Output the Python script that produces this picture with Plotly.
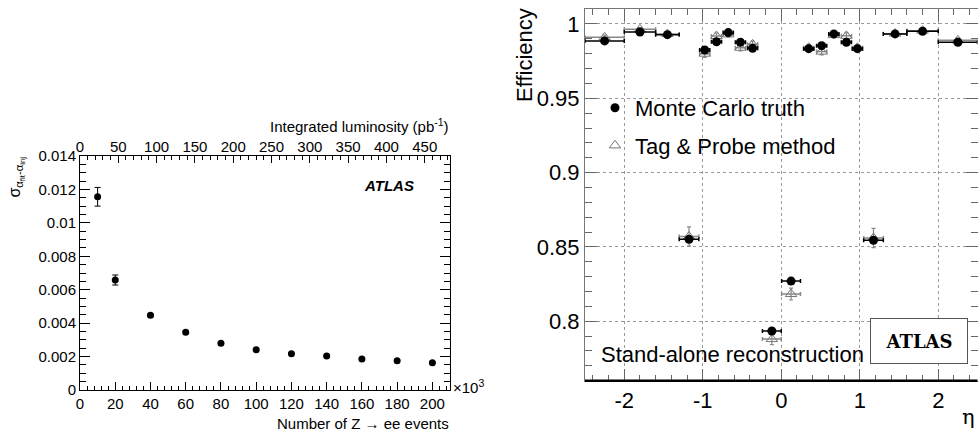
import plotly.graph_objects as go

W, H = 978, 434
FONT = "Liberation Sans, Arial, Helvetica, sans-serif"


def px(x):
    return x / W


def py(y):
    return 1 - y / H


# ---------------- Left panel data ----------------
n_events = [10, 20, 40, 60, 80, 100, 120, 140, 160, 180, 200]          # x10^3
sigma = [0.01156, 0.00658, 0.00447, 0.00345, 0.00279, 0.00241,
         0.00217, 0.00203, 0.00185, 0.00175, 0.00163]
sigma_err = [0.00056, 0.00030, 0.00010, 0.00008, 0.00006, 0.00005,
             0.00005, 0.00004, 0.00004, 0.00004, 0.00003]
lumi_range = [0, 483]                                                  # pb^-1 matching 0..210 x10^3 events
x_ticks_left = [0, 20, 40, 60, 80, 100, 120, 140, 160, 180, 200]
lumi_ticks = [0, 50, 100, 150, 200, 250, 300, 350, 400, 450]

# ---------------- Right panel data ----------------
eta = [-2.25, -1.80, -1.45, -1.175, -0.975, -0.825, -0.675, -0.52, -0.365,
       -0.12, 0.125, 0.35, 0.515, 0.67, 0.83, 0.97, 1.175, 1.45, 1.80, 2.25]
eta_err = [0.25, 0.20, 0.15, 0.125, 0.065, 0.065, 0.065, 0.065, 0.065,
           0.12, 0.12, 0.065, 0.065, 0.065, 0.065, 0.065, 0.125, 0.15, 0.20, 0.25]
eff_mc = [0.9886, 0.9946, 0.9928, 0.8551, 0.9825, 0.9880, 0.9942, 0.9877, 0.9836,
          0.7934, 0.8270, 0.9834, 0.9854, 0.9933, 0.9877, 0.9834, 0.8545, 0.9933, 0.9951, 0.9877]
eff_mc_err = [0.0006, 0.0005, 0.0005, 0.0012, 0.0008, 0.0008, 0.0007, 0.0008, 0.0008,
              0.0012, 0.0012, 0.0008, 0.0008, 0.0007, 0.0008, 0.0008, 0.0012, 0.0005, 0.0005, 0.0006]
eff_tp = [0.9910, 0.9964, 0.9932, 0.8570, 0.9800, 0.9919, 0.9930, 0.9840, 0.9863,
          0.7880, 0.8183, 0.9840, 0.9814, 0.9925, 0.9920, 0.9840, 0.8560, 0.9935, 0.9955, 0.9890]
eff_tp_err = [0.0015, 0.0012, 0.0015, 0.0065, 0.0025, 0.0020, 0.0018, 0.0022, 0.0022,
              0.0037, 0.0040, 0.0022, 0.0022, 0.0018, 0.0020, 0.0022, 0.0065, 0.0015, 0.0012, 0.0015]
eta_ticks = [-2, -1, 0, 1, 2]
eta_ticktext = ["-2", "-1", "0", "1", "2"]
eff_ticks = [0.8, 0.85, 0.9, 0.95, 1.0]
eff_ticktext = ["0.8", "0.85", "0.9", "0.95", "1"]

fig = go.Figure()

# Left panel
fig.add_trace(go.Scatter(
    x=n_events, y=sigma, mode="markers", xaxis="x", yaxis="y",
    marker=dict(symbol="circle", size=7, color="black"),
    error_y=dict(type="data", array=sigma_err, color="black", thickness=1, width=3),
    showlegend=False, hoverinfo="skip"))
# invisible trace for the top luminosity axis
fig.add_trace(go.Scatter(
    x=lumi_range, y=[None, None], mode="markers", xaxis="x3", yaxis="y",
    showlegend=False, hoverinfo="skip"))

# Right panel: Tag & Probe (drawn first so MC sits on top)
fig.add_trace(go.Scatter(
    x=eta, y=eff_tp, mode="markers", xaxis="x2", yaxis="y2",
    name="Tag & Probe method", legendrank=2, legendgroup="tp",
    marker=dict(symbol="triangle-up-open", size=10, color="#777777", line=dict(width=1, color="#777777")),
    error_x=dict(type="data", array=eta_err, color="#888888", thickness=1.5, width=2),
    error_y=dict(type="data", array=eff_tp_err, color="#888888", thickness=1.2, width=2),
    hoverinfo="skip"))
fig.add_trace(go.Scatter(
    x=eta, y=eff_mc, mode="markers", xaxis="x2", yaxis="y2",
    name="Monte Carlo truth", legendrank=1, legendgroup="mc",
    marker=dict(symbol="circle", size=9, color="black"),
    error_x=dict(type="data", array=eta_err, color="black", thickness=1.5, width=2),
    error_y=dict(type="data", array=eff_mc_err, color="black", thickness=1.2, width=2),
    hoverinfo="skip"))

tickfont_l = dict(family=FONT, size=15, color="black")
tickfont_r = dict(family=FONT, size=22, color="black")

fig.update_layout(
    width=W, height=H,
    margin=dict(l=0, r=0, t=0, b=0, autoexpand=False),
    paper_bgcolor="white", plot_bgcolor="white",
    font=dict(family=FONT, color="black"),
    xaxis=dict(domain=[px(80), px(450)], anchor="y", range=[0, 210],
               tickvals=x_ticks_left, ticks="inside", ticklen=8, tickcolor="black",
               minor=dict(dtick=4, ticks="inside", ticklen=4, tickcolor="black"),
               showline=True, linecolor="black", linewidth=1, mirror=True,
               showgrid=False, zeroline=False, tickfont=tickfont_l),
    xaxis3=dict(overlaying="x", side="top", anchor="y", range=lumi_range,
                tickvals=lumi_ticks, ticks="inside", ticklen=7, tickcolor="black",
                minor=dict(dtick=10, ticks="inside", ticklen=4, tickcolor="black"),
                showline=False, showgrid=False, zeroline=False, tickfont=tickfont_l),
    yaxis=dict(domain=[py(390), py(156)], anchor="x", range=[0, 0.014],
               dtick=0.002, ticks="inside", ticklen=10, tickcolor="black",
               minor=dict(dtick=0.0005, ticks="inside", ticklen=6, tickcolor="black"),
               showline=True, linecolor="black", linewidth=1, mirror="ticks",
               showgrid=False, zeroline=False, tickfont=tickfont_l),
    xaxis2=dict(domain=[px(585), 0.9995], anchor="y2", range=[-2.5, 2.5],
                tickvals=eta_ticks, ticktext=eta_ticktext,
                ticks="inside", ticklen=12, tickcolor="#666666",
                minor=dict(dtick=0.2, ticks="inside", ticklen=6, tickcolor="#666666", showgrid=False),
                showline=True, linecolor="#777777", linewidth=1, mirror="ticks",
                showgrid=True, gridcolor="#999999", griddash="dot", gridwidth=1,
                zeroline=False, tickfont=tickfont_r),
    yaxis2=dict(domain=[py(380.7), py(9.1)], anchor="x2", range=[0.76, 1.01],
                tickvals=eff_ticks, ticktext=eff_ticktext,
                ticks="inside", ticklen=12, tickcolor="#666666",
                minor=dict(dtick=0.01, ticks="inside", ticklen=7, tickcolor="#666666", showgrid=False),
                showline=True, linecolor="#777777", linewidth=1, mirror="ticks",
                showgrid=True, gridcolor="#999999", griddash="dot", gridwidth=1,
                zeroline=False, tickfont=tickfont_r),
    legend=dict(x=px(595), y=py(87), xanchor="left", yanchor="top",
                bgcolor="rgba(0,0,0,0)", borderwidth=0,
                font=dict(family=FONT, size=22, color="black"),
                tracegroupgap=6, itemwidth=30),
    showlegend=True,
)

# thick bottom axis line of right panel
fig.add_shape(type="line", xref="x2 domain", yref="y2 domain", x0=0, x1=1, y0=0, y1=0,
              line=dict(color="black", width=2.5))

ann = []
ann.append(dict(text="<b>ATLAS</b>", x=px(919), y=py(341), xref="paper", yref="paper",
                xanchor="center", yanchor="middle", showarrow=False,
                width=96, height=44, bgcolor="white", bordercolor="#555555",
                borderwidth=1, borderpad=0,
                font=dict(family="DejaVu Serif, Liberation Serif, serif", size=18, color="black")))
ann.append(dict(text="Stand-alone reconstruction", x=px(599), y=py(354), xref="paper", yref="paper",
                xanchor="left", yanchor="middle", showarrow=False,
                font=dict(family=FONT, size=22, color="black")))
ann.append(dict(text="Efficiency", x=px(524), y=py(6), xref="paper", yref="paper",
                xanchor="center", yanchor="top", textangle=-90, showarrow=False,
                font=dict(family=FONT, size=22, color="black")))
ann.append(dict(text="η", x=px(977), y=py(417), xref="paper", yref="paper",
                xanchor="right", yanchor="middle", showarrow=False,
                font=dict(family="DejaVu Serif, serif", size=21, color="black")))
# left panel texts
ann.append(dict(text="<b><i>ATLAS</i></b>", x=px(416), y=py(185), xref="paper", yref="paper",
                xanchor="right", yanchor="middle", showarrow=False,
                font=dict(family=FONT, size=15, color="black")))
ann.append(dict(text="Integrated luminosity (pb<sup>-1</sup>)", x=px(451), y=py(126),
                xref="paper", yref="paper", xanchor="right", yanchor="middle", showarrow=False,
                font=dict(family=FONT, size=15, color="black")))
ann.append(dict(text="Number of Z → ee events", x=px(451), y=py(423),
                xref="paper", yref="paper", xanchor="right", yanchor="middle", showarrow=False,
                font=dict(family=FONT, size=15, color="black")))
ann.append(dict(text="×10<sup>3</sup>", x=px(451), y=py(386),
                xref="paper", yref="paper", xanchor="left", yanchor="middle", showarrow=False,
                font=dict(family=FONT, size=15, color="black")))
ann.append(dict(text="σ<sub>α<sub>fit</sub>-α<sub>inj</sub></sub>", x=px(16), y=py(155),
                xref="paper", yref="paper", xanchor="center", yanchor="top", textangle=-90,
                showarrow=False, font=dict(family=FONT, size=16, color="black")))
fig.update_layout(annotations=ann)

# remove the default page margin so the figure sits at the window's top-left corner
fig.write_html("out.html",
               config={"displayModeBar": False},
               post_script="document.body.style.margin='0';document.body.style.overflow='hidden';")
